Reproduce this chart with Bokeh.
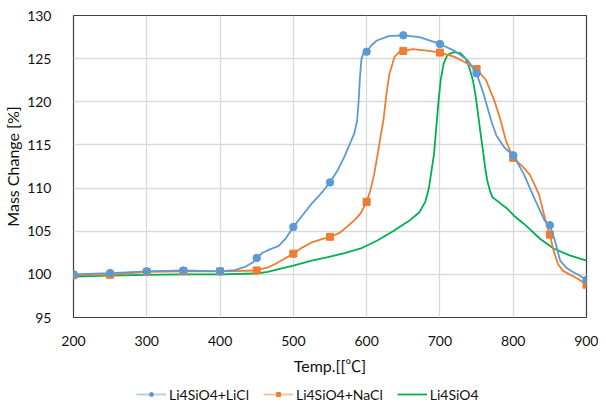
from bokeh.plotting import figure
from bokeh.models import Legend, LegendItem, FixedTicker
from bokeh.layouts import column
from bokeh.embed import file_html
from bokeh.resources import INLINE

# ---- data ----
marker_temp = [200, 250, 300, 350, 400, 450, 500, 550, 600, 650, 700, 750, 800, 850, 900]
licl_markers = [100.0, 100.15, 100.35, 100.45, 100.35, 101.9, 105.5, 110.65, 125.8, 127.7, 126.7, 123.3, 113.8, 105.7, 99.35]
nacl_markers = [99.9, 99.95, 100.3, 100.35, 100.35, 100.45, 102.4, 104.35, 108.4, 125.9, 125.7, 123.8, 113.5, 104.6, 98.8]

licl_line_temp = [200, 250, 300, 350, 400, 420, 435, 445, 450, 458, 468, 480, 490, 500, 512, 525, 540, 550,
                  560, 570, 578, 583, 587, 589, 591, 593, 596, 600, 606, 614, 630, 650, 672, 700, 720, 738,
                  750, 760, 770, 777, 788, 800, 814, 830, 843, 850, 857, 864, 872, 881, 890, 900]
licl_line_val = [100.0, 100.15, 100.35, 100.45, 100.35, 100.5, 100.9, 101.4, 101.9, 102.5, 102.9, 103.3, 104.2, 105.5,
                 106.8, 108.2, 109.6, 110.65, 112.0, 113.7, 115.3, 116.3, 117.8, 120.0, 123.0, 125.0, 125.7, 125.8,
                 126.5, 127.1, 127.6, 127.7, 127.5, 126.7, 125.9, 124.8, 123.3, 120.8, 117.8, 116.1, 114.7, 113.8,
                 111.7, 108.6, 106.2, 105.7, 103.9, 101.6, 100.8, 100.3, 99.9, 99.35]

nacl_line_temp = [200, 250, 300, 350, 400, 450, 465, 475, 488, 500, 512, 525, 540, 550, 563, 573, 585, 592, 600,
                  605, 610, 616, 619, 623, 627, 631, 638, 645, 650, 663, 685, 700, 720, 738, 750, 763, 774, 783,
                  790, 800, 814, 823, 835, 843, 850, 855, 861, 868, 877, 888, 900]
nacl_line_val = [99.9, 99.95, 100.3, 100.35, 100.35, 100.45, 100.8, 101.2, 101.8, 102.4, 103.1, 103.7, 104.1, 104.35,
                 104.8, 105.5, 106.4, 107.1, 108.4, 109.7, 111.5, 114.4, 116.0, 117.9, 120.9, 123.2, 125.2, 125.8,
                 125.9, 126.1, 125.9, 125.7, 125.2, 124.4, 123.8, 122.5, 120.2, 117.8, 115.5, 113.5, 112.4, 111.5,
                 109.3, 106.6, 104.6, 102.8, 101.2, 100.4, 100.0, 99.5, 98.8]

pure_line_temp = [200, 250, 300, 350, 400, 450, 465, 480, 500, 525, 547, 570, 592, 614, 636, 658, 672, 680, 685,
                  688.5, 692, 695, 698, 701, 705, 710, 719, 728, 735, 740, 745, 749, 752, 756, 759, 762, 765, 769,
                  772, 780, 792, 801, 814, 837, 855, 877, 900]
pure_line_val = [99.75, 99.85, 99.95, 100.0, 100.0, 100.1, 100.3, 100.6, 101.0, 101.6, 102.0, 102.45, 103.0, 103.9,
                 105.0, 106.2, 107.2, 108.4, 110.0, 112.0, 114.0, 117.0, 120.0, 122.5, 124.4, 125.4, 125.75, 125.65,
                 125.0, 124.0, 122.5, 120.5, 118.6, 116.0, 114.2, 112.2, 110.7, 109.5, 108.9, 108.4, 107.6, 106.8,
                 105.9, 104.1, 103.0, 102.2, 101.6]

series_names = ["Li4SiO4+LiCl", "Li4SiO4+NaCl", "Li4SiO4"]
x_ticks = [200, 300, 400, 500, 600, 700, 800, 900]
y_ticks = [95, 100, 105, 110, 115, 120, 125, 130]

BLUE = "#5B9BD5"
ORANGE = "#ED7D31"
GREEN = "#00B050"
FONT = "Lato"
TITLE_FONT = "Lato, 'Noto Sans CJK JP'"

p = figure(width=598, height=381, x_range=(200, 900), y_range=(95, 130),
           output_backend="svg", toolbar_location=None,
           min_border_left=71, min_border_right=12, min_border_top=15, min_border_bottom=64)
p.background_fill_color = "white"
p.border_fill_color = "white"
p.outline_line_color = "#404040"
p.outline_line_width = 1.2

for ax in (p.xaxis[0], p.yaxis[0]):
    ax.axis_line_color = None
    ax.major_tick_line_color = None
    ax.minor_tick_line_color = None
    ax.major_tick_out = 0
    ax.major_tick_in = 0
    ax.minor_tick_out = 0
    ax.major_label_text_font = FONT
    ax.major_label_text_font_size = "14px"
    ax.major_label_text_color = "#111111"
    ax.axis_label_text_font = TITLE_FONT
    ax.axis_label_text_font_size = "16px"
    ax.axis_label_text_font_style = "normal"
    ax.axis_label_text_color = "#111111"

p.xaxis.ticker = FixedTicker(ticks=x_ticks)
p.yaxis.ticker = FixedTicker(ticks=y_ticks)
p.xaxis.axis_label = "Temp.[[℃]"
p.yaxis.axis_label = "Mass Change [%]"
p.xaxis.major_label_standoff = 18
p.yaxis.major_label_standoff = 22
p.xaxis.axis_label_standoff = 7
p.yaxis.axis_label_standoff = 2

p.xgrid.grid_line_color = "#D9D9D9"
p.ygrid.grid_line_color = "#D9D9D9"
p.xgrid.grid_line_width = 1.3
p.ygrid.grid_line_width = 1.3

LW = 1.8
p.line(pure_line_temp, pure_line_val, color=GREEN, line_width=LW)
p.line(nacl_line_temp, nacl_line_val, color=ORANGE, line_width=LW)
p.scatter(marker_temp, nacl_markers, marker="square", size=7, color=ORANGE)
p.line(licl_line_temp, licl_line_val, color=BLUE, line_width=LW)
p.scatter(marker_temp, licl_markers, marker="circle", size=7.5, color=BLUE)

# ---- legend strip below the chart (series drawn off-range, only their legend glyphs show) ----
lg = figure(width=598, height=22, x_range=(0, 1), y_range=(0, 1),
            output_backend="svg", toolbar_location=None,
            min_border_left=0, min_border_right=0, min_border_top=0, min_border_bottom=0,
            x_axis_location=None, y_axis_location=None)
lg.outline_line_color = None
lg.grid.visible = False
lg.background_fill_color = "white"
lg.border_fill_color = "white"

lg_b_line = lg.line(licl_line_temp, licl_line_val, color=BLUE, line_width=LW, line_alpha=0.5)
lg_b_pt = lg.scatter(marker_temp, licl_markers, marker="circle", size=4, color=BLUE)
lg_o_line = lg.line(nacl_line_temp, nacl_line_val, color=ORANGE, line_width=LW, line_alpha=0.5)
lg_o_pt = lg.scatter(marker_temp, nacl_markers, marker="square", size=4, color=ORANGE)
lg_g_line = lg.line(pure_line_temp, pure_line_val, color=GREEN, line_width=LW)

legend = Legend(items=[
    LegendItem(label=series_names[0], renderers=[lg_b_line, lg_b_pt]),
    LegendItem(label=series_names[1], renderers=[lg_o_line, lg_o_pt]),
    LegendItem(label=series_names[2], renderers=[lg_g_line]),
], orientation="horizontal", location=(63, 0))
legend.padding = 0
legend.margin = 0
legend.spacing = 14
legend.glyph_width = 30
legend.glyph_height = 10
legend.label_height = 18
legend.label_standoff = 3
legend.label_text_font = FONT
legend.label_text_font_size = "14px"
legend.label_text_color = "#111111"
legend.border_line_color = None
legend.background_fill_alpha = 0
lg.add_layout(legend, "center")

layout = column(p, lg, spacing=0)
open("out.html", "w").write(file_html(layout, INLINE))
